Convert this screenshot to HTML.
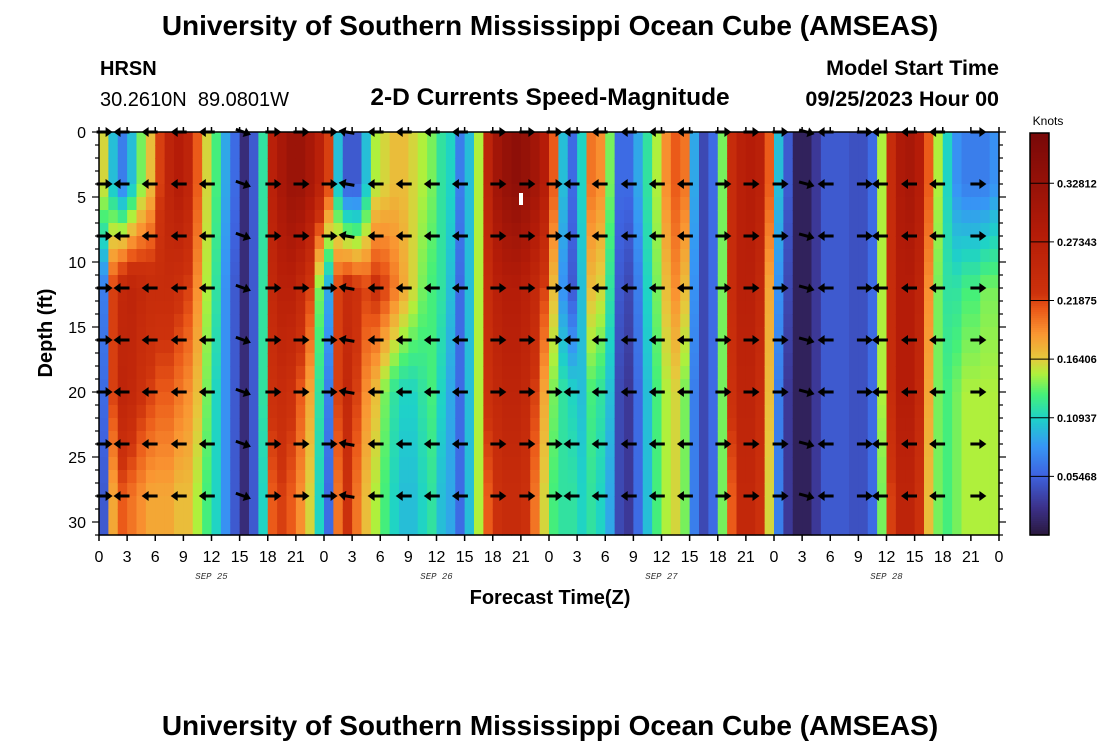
<!DOCTYPE html>
<html><head><meta charset="utf-8">
<style>
body{margin:0;background:#fff;width:1100px;height:750px;overflow:hidden;font-family:"Liberation Sans",sans-serif}
svg{display:block}
</style></head>
<body>
<svg id="chart" width="1100" height="750" xmlns="http://www.w3.org/2000/svg">
<text x="550" y="35" text-anchor="middle" font-size="28" font-weight="bold">University of Southern Mississippi Ocean Cube (AMSEAS)</text>
<text x="100" y="75" font-size="20" font-weight="bold">HRSN</text>
<text x="100" y="106" font-size="20" xml:space="preserve" style="white-space:pre">30.2610N  89.0801W</text>
<text x="550" y="105" text-anchor="middle" font-size="24.5" font-weight="bold">2-D Currents Speed-Magnitude</text>
<text x="999" y="75" text-anchor="end" font-size="21.5" font-weight="bold">Model Start Time</text>
<text x="999" y="106" text-anchor="end" font-size="21.5" font-weight="bold">09/25/2023 Hour 00</text>
<text x="52" y="333" text-anchor="middle" font-size="20" font-weight="bold" transform="rotate(-90 52 333)">Depth (ft)</text>
<text x="550" y="604" text-anchor="middle" font-size="20" font-weight="bold">Forecast Time(Z)</text>
<text x="1048" y="125" text-anchor="middle" font-size="12">Knots</text>
<text x="550" y="735" text-anchor="middle" font-size="28" font-weight="bold">University of Southern Mississippi Ocean Cube (AMSEAS)</text>
<g id="heat"></g><g id="arrows"></g><g id="axes"></g><g id="cbar"></g>
</svg>
<script>
// data
const bandDepths=[4,12,20,28];
const speedTop=[0.16,0.10,0.07,0.10,0.14,0.17,0.22,0.26,0.28,0.26,0.21,0.16,0.13,0.09,0.06,0.02,0.05,0.12,0.27,0.30,0.32,0.32,0.30,0.27,0.22,0.10,0.05,0.05,0.10,0.15,0.16,0.17,0.17,0.16,0.15,0.14,0.12,0.11,0.07,0.10,0.15,0.26,0.31,0.33,0.34,0.33,0.31,0.28,0.21,0.10,0.06,0.11,0.20,0.19,0.14,0.06,0.06,0.09,0.12,0.15,0.19,0.21,0.20,0.09,0.04,0.06,0.14,0.24,0.27,0.28,0.27,0.21,0.10,0.05,0.01,0.01,0.03,0.05,0.05,0.05,0.045,0.045,0.06,0.15,0.24,0.29,0.30,0.28,0.21,0.15,0.11,0.08,0.07,0.07,0.07,0.08];
const speedMid=[0.07,0.22,0.25,0.26,0.25,0.24,0.24,0.24,0.23,0.22,0.19,0.15,0.12,0.08,0.05,0.02,0.05,0.12,0.25,0.27,0.27,0.25,0.22,0.14,0.09,0.22,0.24,0.23,0.22,0.23,0.22,0.20,0.18,0.16,0.14,0.13,0.12,0.10,0.06,0.10,0.15,0.24,0.27,0.28,0.28,0.27,0.25,0.22,0.17,0.08,0.05,0.10,0.17,0.16,0.12,0.05,0.04,0.07,0.11,0.14,0.17,0.19,0.17,0.08,0.04,0.06,0.14,0.24,0.27,0.27,0.25,0.18,0.08,0.04,0.01,0.01,0.03,0.05,0.05,0.05,0.045,0.045,0.06,0.15,0.24,0.28,0.28,0.26,0.19,0.14,0.12,0.12,0.13,0.13,0.14,0.14];
const speedLow=[0.06,0.22,0.26,0.25,0.23,0.22,0.21,0.21,0.20,0.19,0.17,0.14,0.11,0.08,0.05,0.02,0.05,0.12,0.23,0.24,0.23,0.21,0.18,0.12,0.07,0.22,0.25,0.22,0.19,0.17,0.14,0.12,0.11,0.11,0.12,0.13,0.11,0.09,0.06,0.10,0.15,0.23,0.25,0.26,0.26,0.25,0.22,0.18,0.14,0.12,0.11,0.10,0.13,0.12,0.10,0.04,0.03,0.06,0.10,0.13,0.15,0.16,0.14,0.07,0.04,0.06,0.14,0.23,0.26,0.26,0.24,0.17,0.07,0.03,0.01,0.01,0.03,0.05,0.05,0.05,0.045,0.045,0.06,0.15,0.24,0.28,0.28,0.25,0.18,0.14,0.13,0.14,0.15,0.15,0.15,0.15];
const speedBot=[0.05,0.18,0.21,0.20,0.19,0.18,0.18,0.18,0.17,0.17,0.15,0.13,0.11,0.08,0.05,0.02,0.05,0.11,0.21,0.22,0.21,0.19,0.16,0.11,0.06,0.20,0.23,0.20,0.17,0.15,0.13,0.11,0.10,0.10,0.11,0.12,0.10,0.09,0.06,0.10,0.15,0.21,0.23,0.24,0.24,0.23,0.20,0.16,0.13,0.12,0.12,0.11,0.12,0.11,0.09,0.04,0.03,0.06,0.10,0.13,0.15,0.16,0.14,0.07,0.04,0.06,0.14,0.21,0.25,0.25,0.23,0.16,0.07,0.03,0.01,0.01,0.03,0.05,0.05,0.05,0.045,0.045,0.06,0.14,0.22,0.26,0.26,0.23,0.17,0.14,0.13,0.14,0.15,0.15,0.15,0.15];
const arrowHours=[0.6,2.4,5.4,8.5,11.5,15.4,18.6,21.6,24.6,26.4,29.5,32.5,35.5,38.5,42.6,45.7,48.6,50.4,53.4,56.5,59.5,62.5,66.6,69.6,72.7,75.5,77.5,81.7,83.3,86.4,89.4,93.8];
const arrowAngles=[0,180,180,180,180,-20,0,0,0,170,180,180,180,180,0,0,0,180,180,180,180,180,0,0,0,-15,180,0,180,180,180,0];
const arrowDepths=[0,4,8,12,16,20,24,28];
const xTickLabels=["0","3","6","9","12","15","18","21","0","3","6","9","12","15","18","21","0","3","6","9","12","15","18","21","0","3","6","9","12","15","18","21","0"];
const dayLabels=["SEP 25","SEP 26","SEP 27","SEP 28"];
const yTickLabels=["0","5","10","15","20","25","30"];
const cbarTicks=[0.05468,0.10937,0.16406,0.21875,0.27343,0.32812];
const cbarLabels=["0.05468","0.10937","0.16406","0.21875","0.27343","0.32812"];

const NS="http://www.w3.org/2000/svg";
const X0=99,X1=999,Y0=132,Y1=535,HOURS=96,DMAX=31,VMAX=0.375;
const xs=h=>X0+h*(X1-X0)/HOURS;
const ys=d=>Y0+d*(Y1-Y0)/DMAX;
const stops=[[0,[42,24,62]],[0.07,[60,50,140]],[0.15,[62,100,225]],[0.22,[55,150,245]],[0.29,[30,210,200]],[0.35,[70,240,120]],[0.4,[175,240,60]],[0.44,[230,200,60]],[0.5,[250,150,50]],[0.56,[235,90,25]],[0.6,[205,50,12]],[0.75,[180,28,8]],[1,[120,8,8]]];
function cmap(v){let t=Math.max(0,Math.min(1,v/VMAX));for(let i=1;i<stops.length;i++){if(t<=stops[i][0]){const a=stops[i-1],b=stops[i],f=(t-a[0])/(b[0]-a[0]);const c=a[1].map((x,k)=>Math.round(x+(b[1][k]-x)*f));return `rgb(${c[0]},${c[1]},${c[2]})`;}}return "rgb(120,8,8)";}
function mk(tag,attrs,parent){const e=document.createElementNS(NS,tag);for(const k in attrs)e.setAttribute(k,attrs[k]);parent.appendChild(e);return e;}
const bands=[speedTop,speedMid,speedLow,speedBot];
function valAt(h,d){
  if(d<=bandDepths[0])return bands[0][h];
  if(d>=bandDepths[3])return bands[3][h];
  for(let i=0;i<3;i++){if(d<=bandDepths[i+1]){const f=(d-bandDepths[i])/(bandDepths[i+1]-bandDepths[i]);return bands[i][h]*(1-f)+bands[i+1][h]*f;}}
}
const heat=document.getElementById('heat');
for(let h=0;h<HOURS;h++){for(let d=0;d<DMAX;d++){
  const r=mk('rect',{x:xs(h).toFixed(2),y:ys(d).toFixed(2),width:(xs(h+1)-xs(h)+0.6).toFixed(2),height:(ys(d+1)-ys(d)+0.6).toFixed(2),fill:cmap(valAt(h,d+0.5))},heat);
  
  
}}
const wm=mk('rect',{x:519,y:193,width:4,height:12,fill:'#fff'},heat);


const ag=document.getElementById('arrows');
arrowHours.forEach((h,i)=>{arrowDepths.forEach(d=>{
  const g=mk('g',{transform:`translate(${xs(h).toFixed(1)},${ys(d).toFixed(1)}) rotate(${-arrowAngles[i]})`},ag);
  
  
  mk('line',{x1:-8,y1:0,x2:3,y2:0,stroke:'#000','stroke-width':3},g);
  mk('polygon',{points:'8,0 1,-5 1,5',fill:'#000'},g);
});});
const ax=document.getElementById('axes');
const fr=mk('rect',{x:X0,y:Y0,width:X1-X0,height:Y1-Y0,fill:'none',stroke:'#000','stroke-width':1.5},ax);


xTickLabels.forEach((l,i)=>{const x=xs(i*3);
  mk('line',{x1:x,y1:Y1,x2:x,y2:Y1+6,stroke:'#000','stroke-width':1.5},ax);
  mk('line',{x1:x,y1:Y0,x2:x,y2:Y0-5,stroke:'#000','stroke-width':1.5},ax);
  const t=mk('text',{x:x,y:Y1+27,'text-anchor':'middle','font-size':16},ax);t.textContent=l;
  
  
});
dayLabels.forEach((l,i)=>{const t=mk('text',{x:xs(i*24+12),y:Y1+44,'text-anchor':'middle','font-size':9,'font-style':'italic','font-family':'Liberation Mono, monospace',fill:'#333'},ax);t.textContent=l;
  
  });
for(let d=0;d<=DMAX;d++){const y=ys(d);const L=d%5===0?7:4;
  mk('line',{x1:X0-L,y1:y,x2:X0,y2:y,stroke:'#000','stroke-width':1.2},ax);
  mk('line',{x1:X1,y1:y,x2:X1+L,y2:y,stroke:'#000','stroke-width':1.2},ax);}
yTickLabels.forEach((l,i)=>{const t=mk('text',{x:X0-13,y:ys(i*5)+6,'text-anchor':'end','font-size':16},ax);t.textContent=l;
  
  });
const cb=document.getElementById('cbar');
const CX=1030,CW=19,CY0=133,CY1=535;
for(let i=0;i<200;i++){const v=VMAX*(1-(i+0.5)/200);mk('rect',{x:CX,y:CY0+i*(CY1-CY0)/200,width:CW,height:(CY1-CY0)/200+0.6,fill:cmap(v)},cb);}
const cf=mk('rect',{x:CX,y:CY0,width:CW,height:CY1-CY0,fill:'none',stroke:'#000','stroke-width':1.5},cb);


cbarTicks.forEach((v,i)=>{const y=CY1-v/VMAX*(CY1-CY0);
  mk('line',{x1:CX,y1:y,x2:CX+CW+5,y2:y,stroke:'#000','stroke-width':1},cb);
  const t=mk('text',{x:CX+CW+8,y:y+4,'font-size':11,'font-weight':'bold'},cb);t.textContent=cbarLabels[i];
  
  });
</script>
</body></html>
